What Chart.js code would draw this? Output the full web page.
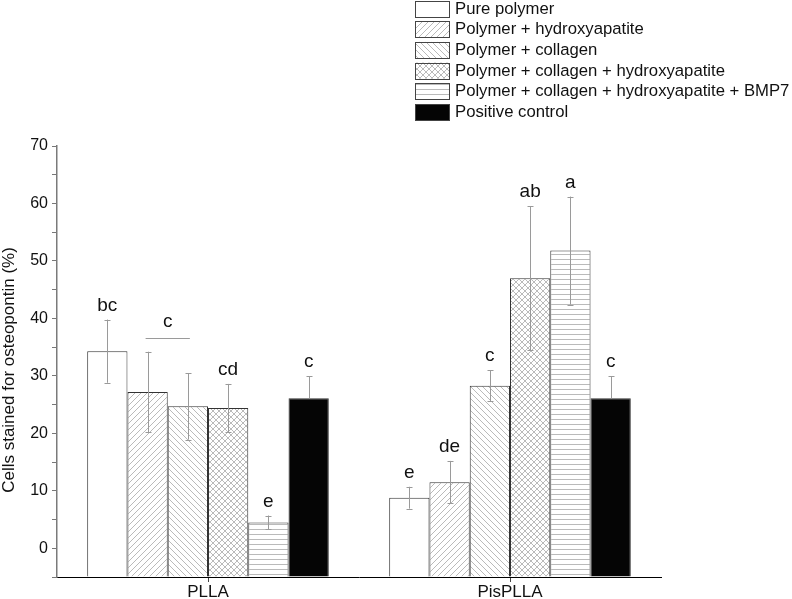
<!DOCTYPE html>
<html>
<head>
<meta charset="utf-8">
<script src="https://cdn.jsdelivr.net/npm/chart.js@4"></script>
<style>
  html, body { margin: 0; padding: 0; background: #fff; }
  #wrap { width: 792px; height: 599px; }
</style>
</head>
<body>
<div id="wrap"><canvas id="chart" width="792" height="599"></canvas></div>
<script>
/* ================= DATA ================= */
const categories = ["PLLA", "PisPLLA"];
const seriesNames = [
  "Pure polymer",
  "Polymer + hydroxyapatite",
  "Polymer + collagen",
  "Polymer + collagen + hydroxyapatite",
  "Polymer + collagen + hydroxyapatite + BMP7",
  "Positive control"
];

const purePolymer = [34.3, 8.8];
const polyHA = [27.2, 11.5];
const polyCol = [24.7, 28.3];
const polyColHA = [24.4, 47.0];
const polyColHABmp7 = [4.5, 51.8];
const positiveCtrl = [26.1, 26.1];

const sdPure = [5.5, 1.9];
const sdHA = [7.0, 3.7];
const sdCol = [5.8, 2.7];
const sdColHA = [4.2, 12.5];
const sdBmp7 = [1.2, 9.4];
const sdPositive = [3.8, 3.8];

const lettersPure = ["bc", "e"];
const lettersHA = ["", "de"];
const lettersCol = ["", "c"];
const lettersColHA = ["cd", "ab"];
const lettersBmp7 = ["e", "a"];
const lettersPositive = ["c", "c"];

// one letter shared by two bars (PLLA: hydroxyapatite + collagen)
const groupLetters = [{ category: 0, from: 1, to: 2, text: "c" }];

const yTitle = "Cells stained for osteopontin (%)";
const yMin = -5;
const yMax = 70;
const yStep = 5;

/* ================= PATTERNS ================= */
const HATCH = "#bababa";

function makePattern(kind) {
  const s = kind === "h" ? 5 : 6;
  const c = document.createElement("canvas");
  c.width = s;
  c.height = s;
  const g = c.getContext("2d");
  g.fillStyle = "#fff";
  g.fillRect(0, 0, s, s);
  g.strokeStyle = HATCH;
  g.lineWidth = 1;
  g.beginPath();
  if (kind === "/" || kind === "x") {
    g.moveTo(-1, s + 1); g.lineTo(s + 1, -1);
  }
  if (kind === "\\" || kind === "x") {
    g.moveTo(-1, -1); g.lineTo(s + 1, s + 1);
  }
  if (kind === "h") {
    g.moveTo(0, s - 0.5); g.lineTo(s, s - 0.5);
  }
  g.stroke();
  return g.createPattern(c, "repeat");
}

/* ================= PLUGINS ================= */
const FONT = "'Liberation Sans', Arial, sans-serif";

const errorBars = {
  id: "errorBars",
  afterDatasetsDraw(chart) {
    const ctx = chart.ctx;
    const y = chart.scales.y;
    ctx.save();
    ctx.strokeStyle = "#9a9a9a";
    ctx.lineWidth = 1;
    chart.data.datasets.forEach((ds, i) => {
      const meta = chart.getDatasetMeta(i);
      meta.data.forEach((bar, j) => {
        const v = ds.data[j];
        const sd = ds.sd[j];
        const x = Math.round(bar.x) + 0.5;
        const top = y.getPixelForValue(v + sd);
        const bot = ds.solid ? y.getPixelForValue(v) : y.getPixelForValue(v - sd);
        ctx.beginPath();
        ctx.moveTo(x, top); ctx.lineTo(x, bot);
        ctx.moveTo(x - 3, Math.round(top) + 0.5); ctx.lineTo(x + 3, Math.round(top) + 0.5);
        if (!ds.solid) {
          ctx.moveTo(x - 3, Math.round(bot) + 0.5); ctx.lineTo(x + 3, Math.round(bot) + 0.5);
        }
        ctx.stroke();
      });
    });

    // significance letters
    ctx.fillStyle = "#111";
    ctx.font = "19px " + FONT;
    ctx.textAlign = "center";
    ctx.textBaseline = "alphabetic";
    chart.data.datasets.forEach((ds, i) => {
      const meta = chart.getDatasetMeta(i);
      meta.data.forEach((bar, j) => {
        const t = ds.letters[j];
        if (!t) return;
        const top = y.getPixelForValue(ds.data[j] + ds.sd[j]);
        ctx.fillText(t, bar.x, top - 9);
      });
    });

    groupLetters.forEach(gl => {
      const b1 = chart.getDatasetMeta(gl.from).data[gl.category];
      const b2 = chart.getDatasetMeta(gl.to).data[gl.category];
      let top = Infinity;
      for (let k = gl.from; k <= gl.to; k++) {
        const ds = chart.data.datasets[k];
        top = Math.min(top, y.getPixelForValue(ds.data[gl.category] + ds.sd[gl.category]));
      }
      const ly = Math.round(top - 14) + 0.5;
      ctx.beginPath();
      ctx.moveTo(b1.x - 2, ly); ctx.lineTo(b2.x + 2, ly);
      ctx.stroke();
      ctx.fillText(gl.text, (b1.x + b2.x) / 2, ly - 12);
    });
    ctx.restore();
  }
};

const boxLegend = {
  id: "boxLegend",
  afterDraw(chart) {
    const ctx = chart.ctx;
    ctx.save();
    ctx.font = "16.7px " + FONT;
    ctx.textAlign = "left";
    ctx.textBaseline = "middle";
    chart.data.datasets.forEach((ds, i) => {
      const top = 0.5 + i * 20.7;
      ctx.fillStyle = ds.backgroundColor;
      ctx.fillRect(415, top, 35, 16);
      ctx.strokeStyle = "#444";
      ctx.lineWidth = 1;
      ctx.strokeRect(415.5, Math.round(top) + 0.5, 34, 16);
      ctx.fillStyle = "#111";
      ctx.fillText(ds.label, 455, top + 8.5);
    });

    // y axis title
    ctx.font = "17px " + FONT;
    ctx.translate(9, 370);
    ctx.rotate(-Math.PI / 2);
    ctx.textAlign = "center";
    ctx.fillText(yTitle, 0, 0);
    ctx.restore();
  }
};

/* ================= CHART ================= */
const values = [purePolymer, polyHA, polyCol, polyColHA, polyColHABmp7, positiveCtrl];
const sds = [sdPure, sdHA, sdCol, sdColHA, sdBmp7, sdPositive];
const letters = [lettersPure, lettersHA, lettersCol, lettersColHA, lettersBmp7, lettersPositive];
const fills = ["#ffffff", makePattern("/"), makePattern("\\"), makePattern("x"), makePattern("h"), "#050505"];

const datasets = seriesNames.map((name, i) => ({
  label: name,
  data: values[i],
  sd: sds[i],
  letters: letters[i],
  solid: i === 5,
  base: yMin,
  backgroundColor: fills[i],
  borderColor: "#333",
  borderWidth: 1,
  categoryPercentage: 0.8,
  barPercentage: 1.0
}));

new Chart(document.getElementById("chart"), {
  type: "bar",
  data: { labels: categories, datasets },
  options: {
    responsive: false,
    animation: false,
    layout: { padding: { top: 146, right: 131, left: 0, bottom: 0 } },
    plugins: {
      legend: { display: false },
      tooltip: { enabled: false }
    },
    scales: {
      x: {
        afterFit: s => { s.height = 22; },
        grid: { offset: false, drawOnChartArea: false, tickLength: 5, tickColor: "#444" },
        border: { color: "#000", width: 1 },
        ticks: { color: "#111", font: { family: FONT, size: 17 }, padding: 0 }
      },
      y: {
        min: yMin,
        max: yMax,
        afterFit: s => { s.width = 57; },
        grid: {
          drawOnChartArea: false,
          tickLength: 5,
          tickColor: "#777"
        },
        border: { color: "#7a7a7a", width: 1.5 },
        ticks: {
          stepSize: yStep,
          autoSkip: false,
          color: "#111",
          padding: 4,
          font: { family: FONT, size: 16 },
          callback: v => (v >= 0 && v % 10 === 0) ? v : ""
        }
      }
    }
  },
  plugins: [errorBars, boxLegend]
});
</script>
</body>
</html>
